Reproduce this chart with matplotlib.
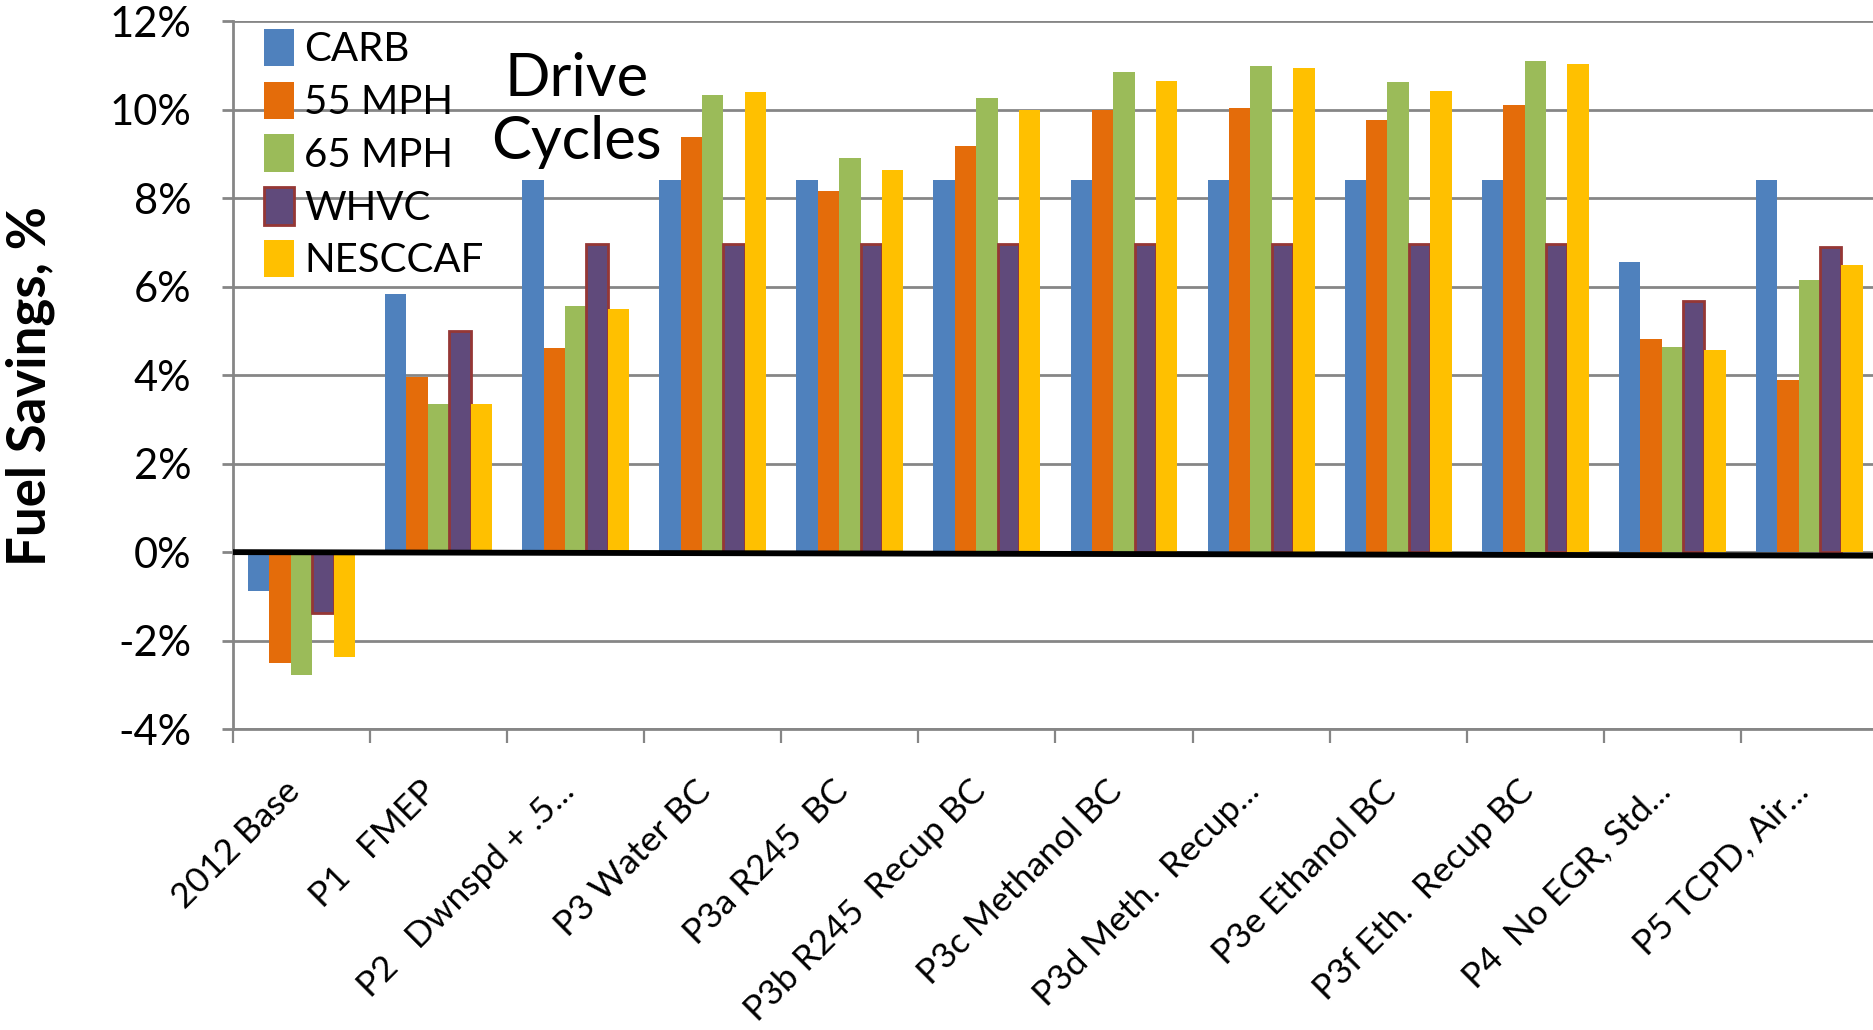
import matplotlib
matplotlib.use("Agg")
import matplotlib.pyplot as plt
import matplotlib.transforms as mtransforms
import numpy as np

plt.rcParams["font.family"] = ["Lato", "DejaVu Sans"]

# fuel savings (%) per engine package, one list per drive cycle
packages = [
    "2012 Base", "P1   FMEP", "P2   Dwnspd + .5...", "P3 Water BC",
    "P3a R245  BC", "P3b R245  Recup BC", "P3c Methanol BC",
    "P3d Meth.  Recup...", "P3e Ethanol BC", "P3f Eth.  Recup BC",
    "P4  No EGR, Std...", "P5 TCPD, Air...",
]
cycles = ["CARB", "55 MPH", "65 MPH", "WHVC", "NESCCAF"]
carb = [-0.89, 5.84, 8.42, 8.42, 8.42, 8.42, 8.42, 8.42, 8.42, 8.42, 6.57, 8.42]
mph55 = [-2.51, 3.97, 4.62, 9.38, 8.16, 9.19, 10.0, 10.05, 9.76, 10.1, 4.82, 3.9]
mph65 = [-2.78, 3.35, 5.57, 10.34, 8.92, 10.26, 10.86, 11.0, 10.62, 11.1, 4.63, 6.15]
whvc = [-1.38, 5.0, 6.97, 6.97, 6.97, 6.97, 6.97, 6.97, 6.97, 6.97, 5.67, 6.9]
nesccaf = [-2.38, 3.35, 5.49, 10.4, 8.65, 10.0, 10.65, 10.95, 10.43, 11.03, 4.56, 6.5]
zero_line = [0.0, -0.08]

series = [carb, mph55, mph65, whvc, nesccaf]
colors = ["#4F81BD", "#E46C0A", "#9BBB59", "#604A7B", "#FFC000"]
edges = ["none", "none", "none", "#953735", "none"]

fig = plt.figure(figsize=(18.74, 10.30), dpi=100)
ax = fig.add_axes([0.1243, 0.2922, 0.8778, 0.687])

x = np.arange(len(packages))
w = 0.156
for i, (vals, name) in enumerate(zip(series, cycles)):
    ax.bar(x + (i - 2) * w, vals, width=w, color=colors[i], label=name,
           edgecolor=edges[i], linewidth=2 if edges[i] != "none" else 0, zorder=3)

# thick baseline drawn across the bars
ax.plot([-0.5, 11.5], zero_line, color="black", lw=4.2, zorder=5, solid_capstyle="butt")

ax.set_xlim(-0.5, 11.5)
ax.set_ylim(-4, 12)
ax.set_yticks(np.arange(-4, 13, 2))
ax.set_yticklabels([f"{v}%" for v in range(-4, 13, 2)], fontsize=30)
ax.yaxis.grid(True, color="#868686", lw=2)
ax.set_axisbelow(True)

ax.set_xticks(x)
ax.set_xticklabels(packages, rotation=45, ha="right", va="top",
                   rotation_mode="anchor", fontsize=25.5)
ax.set_xticks(np.arange(-0.5, 12, 1), minor=True)
ax.tick_params(axis="x", which="major", length=0, pad=33)
ax.tick_params(axis="x", which="minor", length=10, width=1.6, color="#868686")
ax.tick_params(axis="y", length=8, width=2, color="#868686", pad=22)

# nudge the slanted labels so their ends sit over the category centres
shift = mtransforms.ScaledTranslation(-0.18, 0, fig.dpi_scale_trans)
for lab in ax.get_xticklabels():
    lab.set_transform(lab.get_transform() + shift)

for s in ["top", "right"]:
    ax.spines[s].set_visible(False)
for s in ["left", "bottom"]:
    ax.spines[s].set_color("#868686")
    ax.spines[s].set_linewidth(2)

ax.set_ylabel("Fuel Savings, %", fontsize=38, fontweight="bold")
ax.yaxis.set_label_coords(-0.108, 0.485)

leg = ax.legend(loc="upper left", bbox_to_anchor=(0.009, 1.012), frameon=False,
                fontsize=29, handlelength=0.75, handleheight=1.05, handletextpad=0.25,
                labelspacing=0.33, borderaxespad=0.0)

ax.text(0.209, 0.874, "Drive\nCycles", transform=ax.transAxes, ha="center",
        va="center", fontsize=43, linespacing=1.22)

fig.savefig("out.png", dpi=100)
